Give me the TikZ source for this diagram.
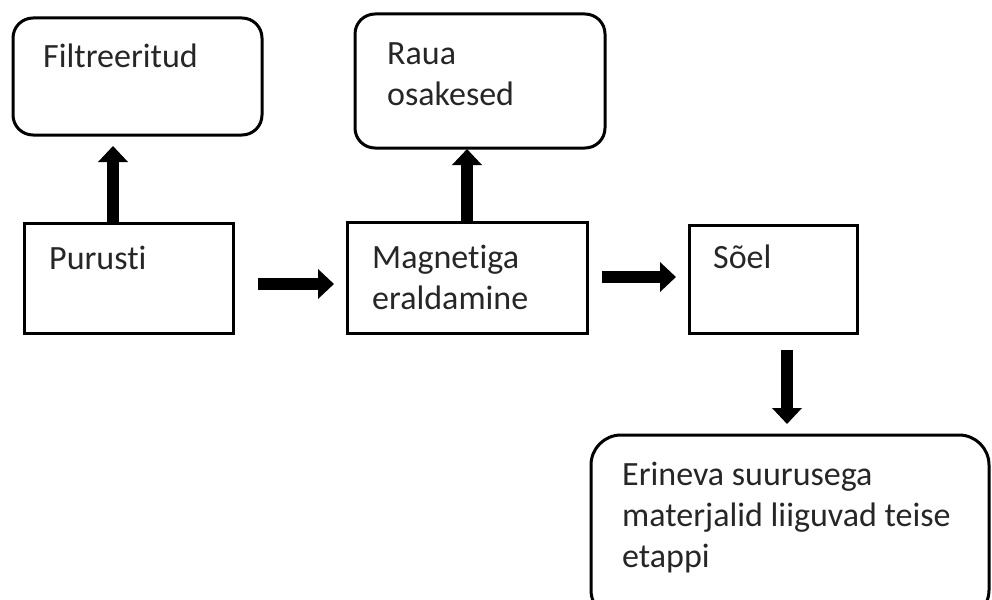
\documentclass[tikz,border=0pt]{standalone}
\usepackage{fontspec}
\setmainfont{Carlito}[Ligatures=NoCommon]
\usetikzlibrary{arrows.meta}
\tikzset{
  box/.style={draw, line width=3pt, inner sep=0pt},
  roundbox/.style={box, rounded corners=20pt},
  lbl/.style={anchor=base west, inner sep=0pt, align=left, text=black!85,
    font=\fontsize{34}{41}\selectfont},
  flow/.style={line width=12pt, -{Triangle[width=29pt,length=16pt]}},
}
\begin{document}
\begin{tikzpicture}[x=1pt,y=-1pt]
\useasboundingbox (0,0) rectangle (992,599);

% boxes
\node[roundbox, minimum width=249pt, minimum height=117pt] (filt) at (137.5,76.5) {};
\node[roundbox, minimum width=250pt, minimum height=134pt] (raua) at (480,81) {};
\node[box, minimum width=209pt, minimum height=110pt] (pur) at (128.5,278) {};
\node[box, minimum width=240pt, minimum height=111pt] (mag) at (467,277.5) {};
\node[box, minimum width=168pt, minimum height=108pt] (soel) at (773,279) {};
\node[roundbox, rounded corners=30pt, minimum width=398pt, minimum height=185pt] (erin) at (790,527.5) {};

% texts (a multi-line label is placed by the baseline of its last line)
\node[lbl] (tfilt) at (43,68) {Filtreeritud};
\node[lbl] (traua) at (387,106) {Raua\\osakesed};
\node[lbl] (tpur) at (49,269) {Purusti};
\node[lbl] (tmag) at (372,309) {Magnetiga\\eraldamine};
\node[lbl] (tsoel) at (713,268) {Sõel};
\node[lbl] (terin) at (622,567) {Erineva suurusega\\materjalid liiguvad teise\\etappi};

% arrow end points
\coordinate (a1s) at (258,284);
\coordinate (a1e) at (334,284);
\coordinate (a2s) at (602,277);
\coordinate (a2e) at (676,277);
\coordinate (a3s) at (787,350);
\coordinate (a3e) at (787,424);
\coordinate (upf) at (113,146);
\coordinate (upr) at (467,149);

% arrows
\draw[flow] (pur.north -| upf) -- (upf);
\draw[flow] (mag.north -| upr) -- (upr);
\draw[flow] (a1s) -- (a1e);
\draw[flow] (a2s) -- (a2e);
\draw[flow] (a3s) -- (a3e);
\end{tikzpicture}
\end{document}
